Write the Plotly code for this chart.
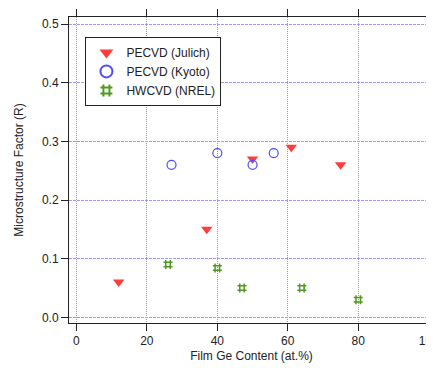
import plotly.graph_objects as go

julich_x = [12, 37, 50, 61, 75]
julich_y = [0.06, 0.15, 0.27, 0.29, 0.26]
kyoto_x = [27, 40, 50, 56]
kyoto_y = [0.26, 0.28, 0.26, 0.28]
nrel_x = [26, 40, 47, 64, 80]
nrel_y = [0.09, 0.084, 0.05, 0.05, 0.03]

x_ticks = [0, 20, 40, 60, 80, 100]
y_ticks = [0.0, 0.1, 0.2, 0.3, 0.4, 0.5]

font = dict(family="Liberation Sans, Arial, sans-serif", size=12, color="#222222")

fig = go.Figure()
fig.add_trace(go.Scatter(x=julich_x, y=julich_y, mode="markers", name="PECVD (Julich)",
                         marker=dict(symbol="triangle-down", size=10, color="#ff3b3b",
                                     line=dict(width=0))))
fig.add_trace(go.Scatter(x=kyoto_x, y=kyoto_y, mode="markers", name="PECVD (Kyoto)",
                         marker=dict(symbol="circle-open", size=9, color="#4d4dff",
                                     line=dict(width=1.2, color="#4d4dff"))))
fig.add_trace(go.Scatter(x=nrel_x, y=nrel_y, mode="markers", name="HWCVD (NREL)",
                         marker=dict(symbol="hash", size=9, color="#4f9a1e",
                                     line=dict(width=1.5, color="#4f9a1e"))))

common = dict(showgrid=True, gridwidth=1,
              zeroline=False, showline=True, linecolor="#222222", linewidth=1, mirror="ticks",
              ticks="outside", ticklen=7, tickcolor="#222222", tickfont=font, automargin=False,
              ticklabeloverflow="allow")

fig.update_xaxes(range=[-2.1, 101.5], tickvals=x_ticks, ticktext=[str(v) for v in x_ticks],
                 gridcolor="#8c8cff", griddash="1px,1px",
                 title=dict(text="Film Ge Content (at.%)", font=font, standoff=4), **common)
fig.update_yaxes(range=[-0.0097, 0.512], tickvals=y_ticks, ticktext=[f"{v:.1f}" for v in y_ticks],
                 gridcolor="#9a9aff", griddash="3px,1px",
                 title=dict(text="Microstructure Factor (R)", font=font, standoff=15), **common)

fig.update_layout(
    width=426, height=360,
    margin=dict(l=61, r=0, t=9, b=45),
    plot_bgcolor="white", paper_bgcolor="white",
    font=font,
    showlegend=True,
    legend=dict(x=0.045, y=0.935, xanchor="left", yanchor="top",
                bgcolor="white", bordercolor="#222222", borderwidth=1,
                font=dict(family="Liberation Sans, Arial, sans-serif", size=12, color="#222222"),
                tracegroupgap=0, itemsizing="constant"),
)

fig.write_html("out.html")
